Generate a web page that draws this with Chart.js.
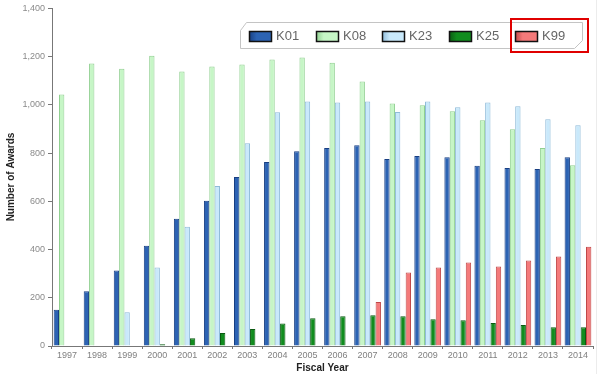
<!DOCTYPE html>
<html>
<head>
<meta charset="utf-8">
<script src="https://cdn.jsdelivr.net/npm/chart.js@4"></script>
<style>
  html, body { margin:0; padding:0; background:#fff; }
  #wrap { width:600px; height:374px; position:relative; }
</style>
</head>
<body>
<div id="wrap"><canvas id="awardsChart" width="600" height="374"></canvas></div>
<script>
const years = ['1997','1998','1999','2000','2001','2002','2003','2004','2005','2006','2007','2008','2009','2010','2011','2012','2013','2014'];
const k01 = [150, 227, 313, 416, 528, 602, 701, 763, 808, 821, 833, 775, 788, 783, 747, 738, 734, 783];
const k08 = [1043, 1171, 1150, 1204, 1138, 1159, 1167, 1188, 1196, 1175, 1097, 1006, 998, 973, 936, 899, 821, 750];
const k23 = [0, 0, 140, 326, 495, 664, 841, 969, 1014, 1010, 1014, 970, 1014, 990, 1010, 994, 940, 915];
const k25 = [0, 2, 0, 7, 32, 54, 70, 93, 115, 123, 127, 123, 111, 107, 95, 87, 78, 78];
const k99 = [0, 0, 0, 0, 0, 0, 0, 0, 0, 0, 182, 305, 326, 346, 330, 355, 371, 412];
const seriesNames = ['K01','K08','K23','K25','K99'];

const fills = ['#2c63b3', '#c6f6c6', '#c9e9fb', '#118c1e', '#f47a7a'];
const borders = ['#183f82', '#90cf90', '#8fbbd9', '#0b5a12', '#c04848'];

// legend box drawn inside the plot, with the red highlight round K99
const legendBox = {
    id: 'legendBox',
    afterDraw(chart) {
        const ctx = chart.ctx;
        ctx.save();
        // faint frame line at the right edge of the picture
        ctx.strokeStyle = '#ececec';
        ctx.lineWidth = 1;
        ctx.beginPath();
        ctx.moveTo(596.5, 0);
        ctx.lineTo(596.5, 374);
        ctx.stroke();

        // outline with cut corners
        ctx.strokeStyle = '#c4c4c4';
        ctx.fillStyle = 'rgba(255,255,255,0.95)';
        ctx.beginPath();
        ctx.moveTo(246.5, 22.5);
        ctx.lineTo(582.5, 22.5);
        ctx.lineTo(582.5, 40.5);
        ctx.lineTo(574.5, 48.5);
        ctx.lineTo(240.5, 48.5);
        ctx.lineTo(240.5, 30.5);
        ctx.closePath();
        ctx.fill();
        ctx.stroke();

        const xs = [249, 316, 382, 449, 515];
        ctx.font = '13px "Liberation Sans", Arial, sans-serif';
        ctx.textBaseline = 'middle';
        chart.data.datasets.forEach((ds, i) => {
            const x = xs[i];
            const g = ctx.createLinearGradient(x, 0, x + 22, 0);
            g.addColorStop(0, ds.borderColor);
            g.addColorStop(0.35, ds.backgroundColor);
            g.addColorStop(1, ds.backgroundColor);
            ctx.fillStyle = g;
            ctx.fillRect(x, 31, 22, 10);
            ctx.strokeStyle = '#111';
            ctx.lineWidth = 1.5;
            ctx.strokeRect(x + 0.5, 31.5, 22, 10);
            ctx.fillStyle = '#666';
            ctx.fillText(ds.label, x + 27, 36.5);
        });

        ctx.strokeStyle = '#e00000';
        ctx.lineWidth = 2;
        ctx.strokeRect(511, 19, 77, 33);
        ctx.restore();
    }
};

const yTitle = {
    id: 'yTitle',
    afterDraw(chart) {
        const ctx = chart.ctx;
        ctx.save();
        ctx.translate(11, 177);
        ctx.rotate(-Math.PI / 2);
        ctx.font = 'bold 10px "Liberation Sans", Arial, sans-serif';
        ctx.fillStyle = '#222';
        ctx.textAlign = 'center';
        ctx.textBaseline = 'middle';
        ctx.fillText('Number of Awards', 0, 0);
        ctx.restore();
    }
};

const data = [k01, k08, k23, k25, k99];

new Chart(document.getElementById('awardsChart'), {
    type: 'bar',
    data: {
        labels: years,
        datasets: seriesNames.map((name, i) => ({
            label: name,
            data: data[i],
            backgroundColor: fills[i],
            borderColor: borders[i],
            borderWidth: 1,
            categoryPercentage: 0.89,
            barPercentage: 1.0
        }))
    },
    options: {
        responsive: false,
        animation: false,
        devicePixelRatio: 1,
        layout: { padding: { top: 8, right: 7, left: 0, bottom: 0 } },
        plugins: {
            legend: { display: false },
            tooltip: { enabled: false }
        },
        scales: {
            x: {
                afterFit: s => { s.height = 28; },
                grid: { display: true, drawOnChartArea: false, tickLength: 3, color: '#777' },
                border: { color: '#777', width: 1 },
                ticks: { color: '#808080', font: { size: 9, family: '"Liberation Sans", Arial, sans-serif' }, padding: 1, maxRotation: 0, autoSkip: false },
                title: { display: true, text: 'Fiscal Year', color: '#222', font: { size: 10, weight: 'bold', family: '"Liberation Sans", Arial, sans-serif' }, padding: { top: 0, bottom: 0 } }
            },
            y: {
                min: 0, max: 1400,
                afterFit: s => { s.width = 52; },
                grid: { display: true, drawOnChartArea: false, tickLength: 4, color: '#777' },
                border: { color: '#777', width: 1 },
                ticks: { stepSize: 200, color: '#8a8a8a', font: { size: 9, family: '"Liberation Sans", Arial, sans-serif' }, padding: 3 }
            }
        }
    },
    plugins: [legendBox, yTitle]
});
</script>
</body>
</html>
